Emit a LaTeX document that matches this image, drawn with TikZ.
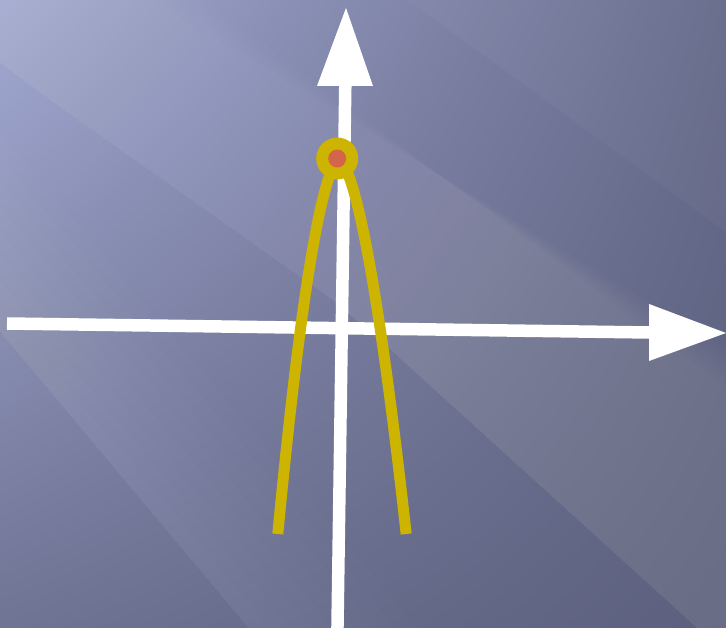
\documentclass[tikz,border=0pt]{standalone}
\usetikzlibrary{shadings}
\definecolor{bgTL}{HTML}{A2A9D2}
\definecolor{bgTR}{HTML}{676B8B}
\definecolor{bgBL}{HTML}{6F7494}
\definecolor{bgBR}{HTML}{5C607E}
\definecolor{curveyellow}{HTML}{CCB400}
\definecolor{vertexred}{HTML}{D4654A}
\begin{document}
\begin{tikzpicture}[x=1pt,y=-1pt,
  axisline/.style={draw=white, line width=12.5pt, line cap=butt},
  tiphead/.style={fill=white},
  curve/.style={draw=curveyellow, line width=11pt, line cap=butt, line join=round},
  glow/.style={fill=white, opacity=#1}]
\useasboundingbox (0,0) rectangle (726,628);
\clip (0,0) rectangle (726,628);
% background
\shade[upper left=bgTL, upper right=bgTR, lower left=bgBL, lower right=bgBR] (0,0) rectangle (726,628);
\foreach \k in {0,...,5}
  \fill[glow=0.014] (-10,-10) -- (-10,55) -- (50,100) -- (333,300) -- (393,352) -- (696,627) -- (740,667)
     -- (740,{397-8*\k}) -- ({190-11*\k},-10) -- cycle;
\fill[glow=0.03] (394,-10) -- (740,242) -- (740,-10) -- cycle;
\foreach \k in {1,...,8}
  \fill[glow=0.011] (-10,320) -- (420,832) -- (420,832-25*\k) -- (-10,320-25*\k) -- cycle;
% axes
\coordinate (xstart) at (7,323.5);
\coordinate (xend) at (650,332.5);
\coordinate (xtip) at (726,333);
\coordinate (xb1) at (649,304);
\coordinate (xb2) at (649,361);
\coordinate (ystart) at (337.3,640);
\coordinate (yend) at (345.3,85);
\coordinate (ytip) at (346,8);
\coordinate (yb1) at (317,86);
\coordinate (yb2) at (373,86);
\draw[axisline] (xstart) -- (xend);
\fill[tiphead] (xtip) -- (xb1) -- (xb2) -- cycle;
\draw[axisline] (ystart) -- (yend);
\fill[tiphead] (ytip) -- (yb1) -- (yb2) -- cycle;
% parabola
\draw[curve] plot[domain=-374:374, samples=150, variable=\t]
  ({339+0.008*abs(\t)+(\t/abs(\t))*1.836*pow(abs(\t),0.6)}, {160+abs(\t)});
% vertex
\coordinate (vertex) at (337.2,158.5);
\fill[curveyellow] (vertex) circle[radius=21pt];
\fill[vertexred] (vertex) circle[radius=9pt];
\end{tikzpicture}
\end{document}
